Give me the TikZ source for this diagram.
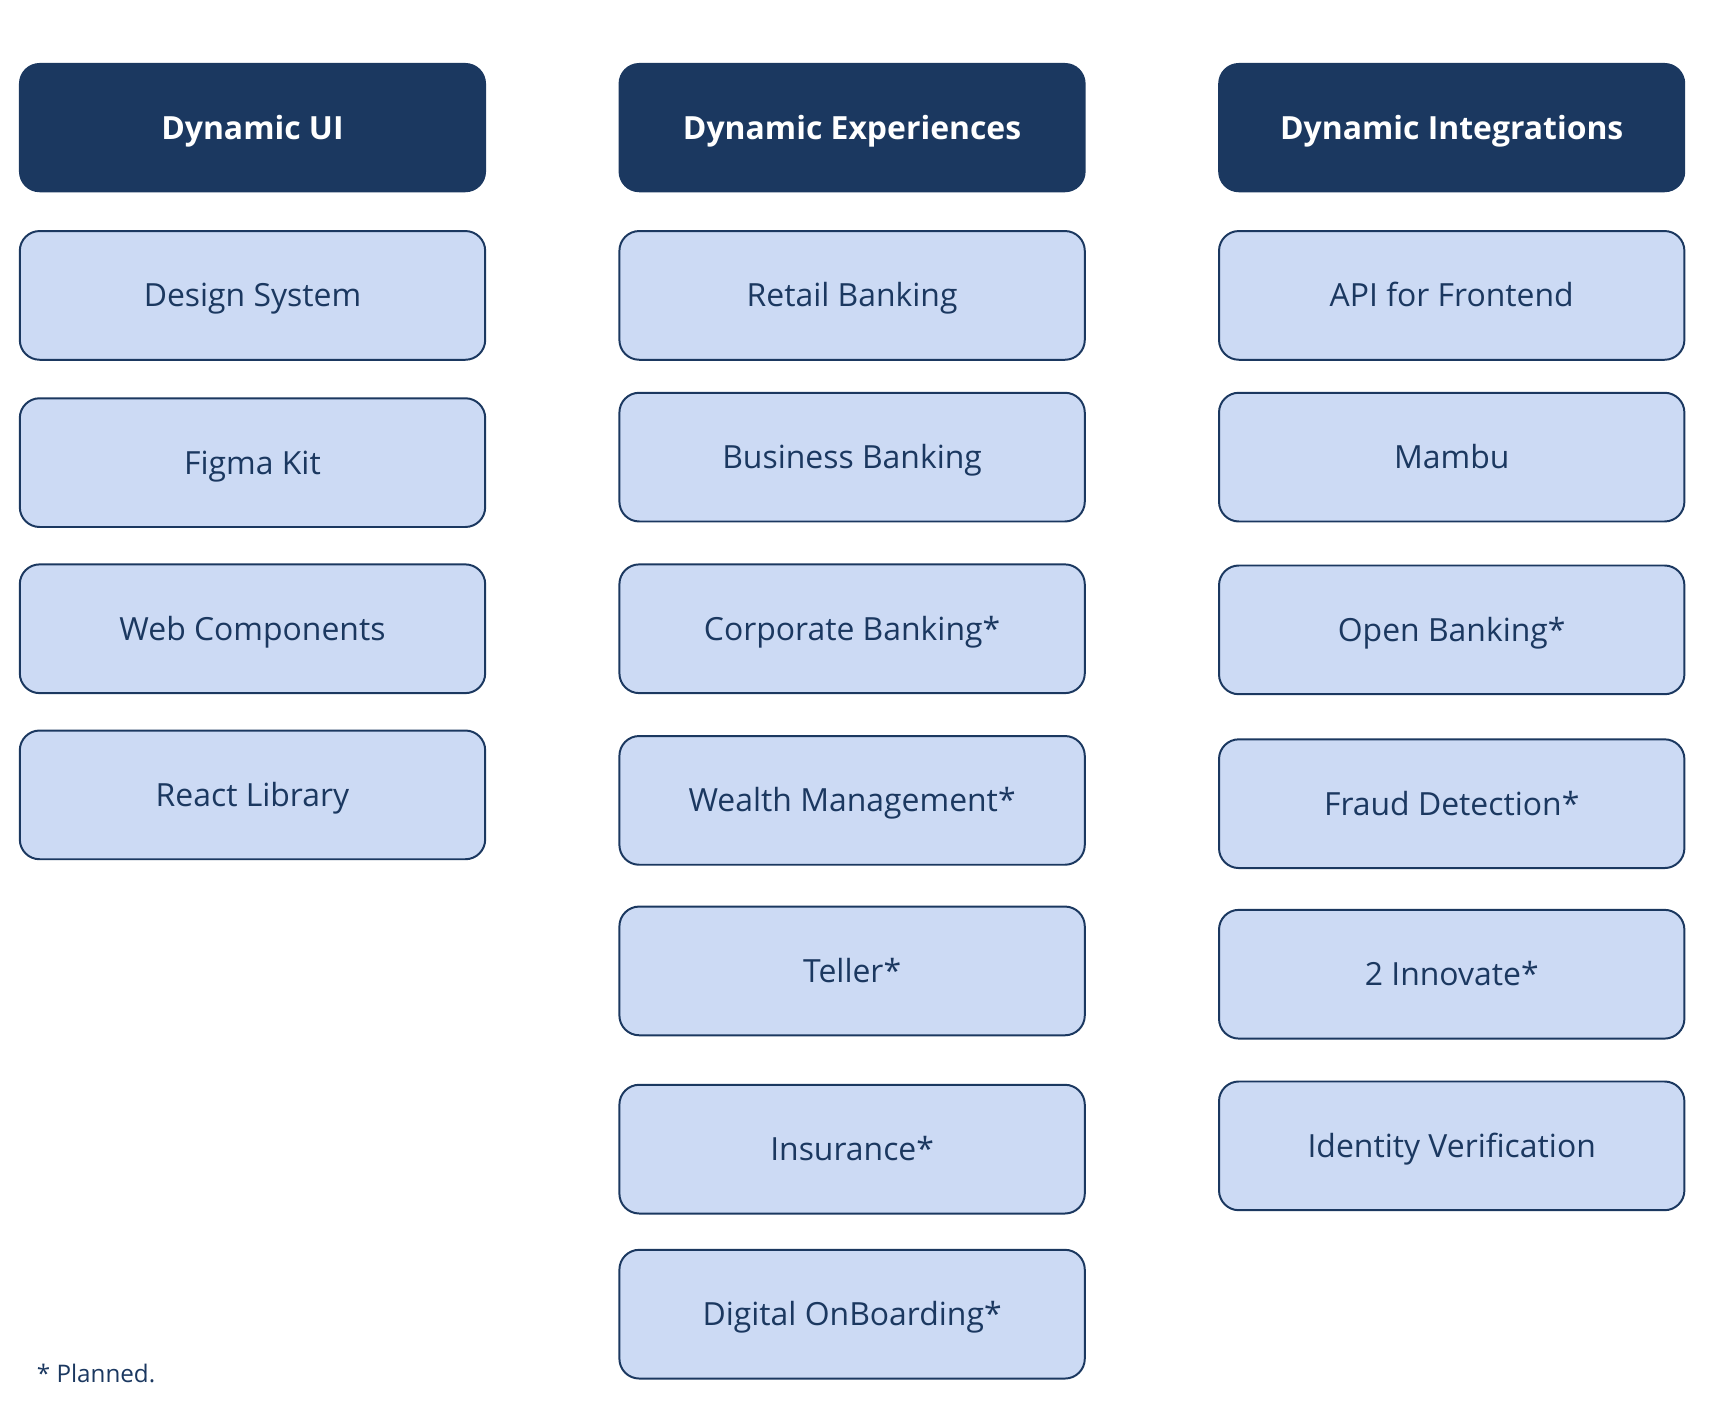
\documentclass[tikz,border=0pt]{standalone}
\usepackage{fontspec}
\setmainfont{Open Sans}
\usepackage{tikz}
\usetikzlibrary{positioning,calc}
\definecolor{navy}{RGB}{27,56,96}
\definecolor{paleblue}{RGB}{204,218,244}
\tikzset{
    head/.style = {draw=navy, fill=navy, text=white, rectangle, rounded corners=18pt,
        line width=1.5pt, minimum height=116pt, text height=21pt, text depth=0pt,
        minimum width=423pt, align=center, font=\bfseries\fontsize{29}{34}\selectfont},
    block/.style = {draw=navy, fill=paleblue, text=navy, rectangle, rounded corners=18pt,
        line width=1.8pt, minimum height=117pt, text height=21pt, text depth=0pt,
        minimum width=423pt, align=center, font=\fontsize{29}{34}\selectfont},
    note/.style = {text=navy, anchor=west, font=\fontsize{22}{26}\selectfont}
}

\begin{document}
\begin{tikzpicture}[node distance=151pt]
        \useasboundingbox (0,0) rectangle (1567pt,-1289pt);
        % headers
        \node [head] (ui) at (229.5pt,-116pt) {Dynamic UI};
        \node [head] (exp) at (774.5pt,-116pt) {Dynamic Experiences};
        \node [head] (int) at (1319.5pt,-116pt) {Dynamic Integrations};
        % Dynamic UI
        \node [block, below of=ui, node distance=152.5pt] (ds) {Design System};
        \node [block, below of=ds, node distance=152pt] (fk) {Figma Kit};
        \node [block, below of=fk] (wc) {Web Components};
        \node [block, below of=wc] (rl) {React Library};
        % Dynamic Experiences
        \node [block, below of=exp, node distance=152.5pt] (rb) {Retail Banking};
        \node [block, below of=rb, node distance=147pt] (bb) {Business Banking};
        \node [block, below of=bb, node distance=156pt] (cb) {Corporate Banking*};
        \node [block, below of=cb, node distance=156pt] (wm) {Wealth Management*};
        \node [block, below of=wm, node distance=155pt] (tl) {Teller*};
        \node [block, below of=tl, node distance=162pt] (ins) {Insurance*};
        \node [block, below of=ins, node distance=150pt] (dob) {Digital OnBoarding*};
        % Dynamic Integrations
        \node [block, below of=int, node distance=152.5pt] (api) {API for Frontend};
        \node [block, below of=api, node distance=147pt] (mb) {Mambu};
        \node [block, below of=mb, node distance=157pt] (ob) {Open Banking*};
        \node [block, below of=ob, node distance=158pt] (fd) {Fraud Detection*};
        \node [block, below of=fd, node distance=155pt] (inn) {2 Innovate*};
        \node [block, below of=inn, node distance=156pt] (idv) {Identity Verification};
        \node [note] (plan) at (30pt,-1248pt) {* Planned.};
\end{tikzpicture}
\end{document}
